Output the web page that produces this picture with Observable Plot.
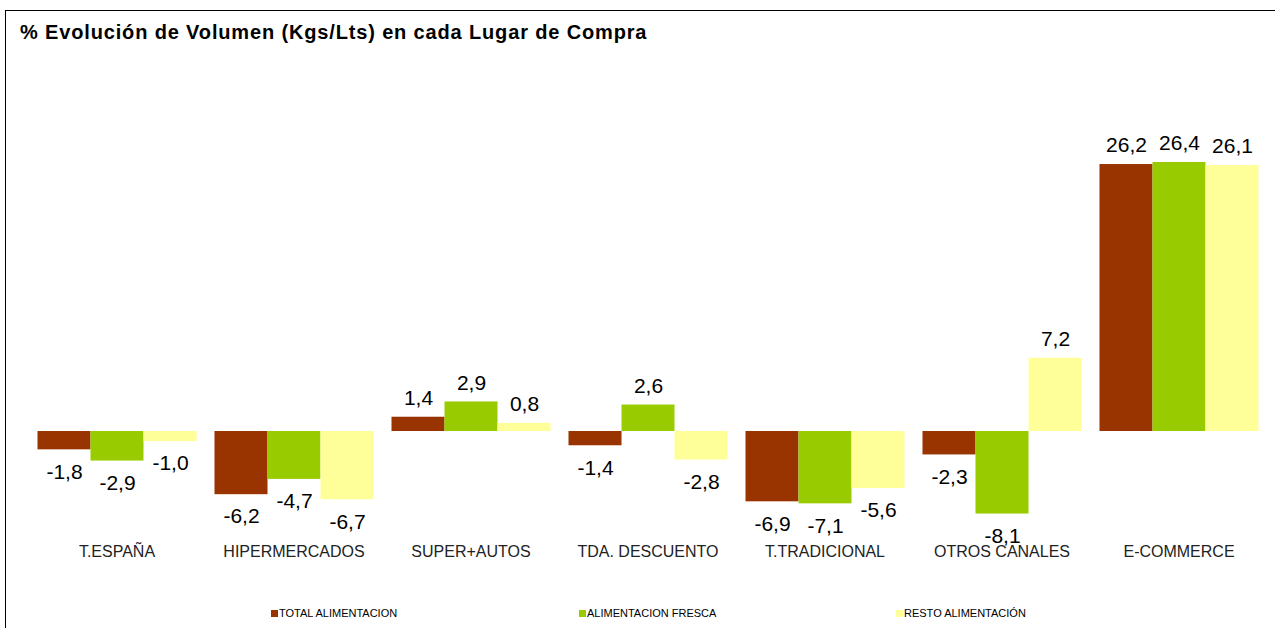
<!DOCTYPE html>
<html><head><meta charset="utf-8">
<script src="https://cdn.jsdelivr.net/npm/d3@7"></script>
<script src="https://cdn.jsdelivr.net/npm/@observablehq/plot@0.6"></script>
<style>
body{margin:0;background:#fff;font-family:"Liberation Sans",Arial,sans-serif;}
#wrap{position:relative;width:1275px;height:628px;overflow:hidden;background:#fff;}
#frame{position:absolute;left:5px;top:10px;width:1300px;height:700px;border:1px solid #000;z-index:5;pointer-events:none;}
#title{position:absolute;left:20px;top:21px;font-weight:bold;font-size:20px;letter-spacing:0.85px;color:#000;z-index:4;white-space:nowrap;}
#chart{position:absolute;left:0;top:0;}
.leg{position:absolute;top:607px;font-size:11px;color:#000;white-space:nowrap;z-index:4;}
.leg i{display:inline-block;width:7px;height:7px;margin-right:1px;vertical-align:0px;}
</style></head>
<body>
<div id="wrap">
<div id="frame"></div>
<div id="title">% Evolución de Volumen (Kgs/Lts) en cada Lugar de Compra</div>
<div id="chart"></div>
<div id="legend"></div>
</div>
<script>
const categories = ["T.ESPAÑA","HIPERMERCADOS","SUPER+AUTOS","TDA. DESCUENTO","T.TRADICIONAL","OTROS CANALES","E-COMMERCE"];
const seriesNames = ["TOTAL ALIMENTACION","ALIMENTACION FRESCA","RESTO ALIMENTACIÓN"];
const totalAlimentacion = [-1.8,-6.2,1.4,-1.4,-6.9,-2.3,26.2];
const alimentacionFresca = [-2.9,-4.7,2.9,2.6,-7.1,-8.1,26.4];
const restoAlimentacion = [-1.0,-6.7,0.8,-2.8,-5.6,7.2,26.1];
const seriesColors = ["#993300","#99CC00","#FFFF99"];
const legendX = [271, 579, 896];

const seriesValues = [totalAlimentacion, alimentacionFresca, restoAlimentacion];
const data = [];
categories.forEach((c,i)=>seriesNames.forEach((s,j)=>data.push({cat:c, series:s, value:seriesValues[j][i]})));
const fmt = v => v.toFixed(1).replace(".", ",");

const plot = Plot.plot({
  width:1275, height:628,
  marginLeft:26.5, marginRight:6.5, marginTop:125.3, marginBottom:95.1,
  style:{fontFamily:"Liberation Sans, Arial, sans-serif", fontSize:"16px", background:"transparent", color:"#222"},
  fx:{domain:categories, paddingInner:0.089, paddingOuter:0.0445, label:null, axis:"bottom", tickSize:0, tickPadding:12},
  x:{domain:seriesNames, padding:0, axis:null},
  y:{domain:[-10,30], axis:null},
  color:{domain:seriesNames, range:seriesColors},
  marks:[
    Plot.barY(data,{fx:"cat", x:"series", y:"value", fill:"series", inset:0}),
    Plot.text(data.filter(d=>d.value>=0),{fx:"cat", x:"series", y:"value", text:d=>fmt(d.value), dy:-19, fontSize:21, fill:"#000"}),
    Plot.text(data.filter(d=>d.value<0),{fx:"cat", x:"series", y:"value", text:d=>fmt(d.value), dy:22, fontSize:21, fill:"#000"})
  ]
});
document.getElementById("chart").appendChild(plot);

const leg = document.getElementById("legend");
seriesNames.forEach((s,j)=>{
  const d = document.createElement("div");
  d.className = "leg";
  d.style.left = legendX[j] + "px";
  d.innerHTML = `<i style="background:${seriesColors[j]}"></i>${s}`;
  leg.appendChild(d);
});
</script>
</body></html>
